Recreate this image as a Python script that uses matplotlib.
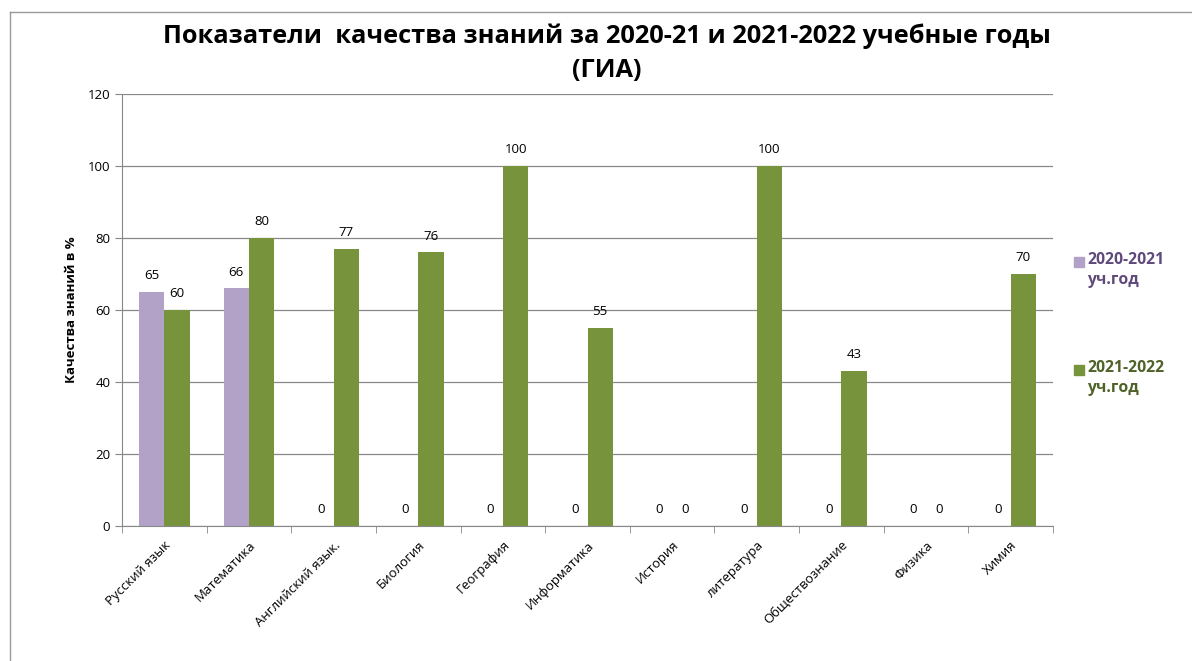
import numpy as np
import matplotlib.pyplot as plt
from matplotlib.patches import Rectangle
from matplotlib.lines import Line2D

plt.rcParams['font.family'] = ['Open Sans', 'DejaVu Sans']

subjects = ['Русский язык', 'Математика', 'Английский язык.', 'Биология', 'География',
            'Информатика', 'История', 'литература', 'Обществознание', 'Физика', 'Химия']
year_2021 = [65, 66, 0, 0, 0, 0, 0, 0, 0, 0, 0]
year_2022 = [60, 80, 77, 76, 100, 55, 0, 100, 43, 0, 70]
series_names = ['2020-2021\nуч.год', '2021-2022\nуч.год']

c_lav = '#B3A2C7'
c_green = '#77933C'

fig = plt.figure(figsize=(11.92, 6.61), dpi=100)
ax = fig.add_axes([122 / 1192, 1 - 526 / 661, 931 / 1192, 432 / 661])

x = np.arange(len(subjects))
w = 0.3
b1 = ax.bar(x - w / 2, year_2021, w, color=c_lav)
b2 = ax.bar(x + w / 2, year_2022, w, color=c_green)
for bars, vals in ((b1, year_2021), (b2, year_2022)):
    for r, v in zip(bars, vals):
        ax.annotate(str(v), (r.get_x() + r.get_width() / 2, v), xytext=(0, 7),
                    textcoords='offset points', ha='center', va='bottom', fontsize=9.5)

ax.set_xlim(-0.5, len(subjects) - 0.5)
ax.set_ylim(0, 120)
ax.set_yticks(range(0, 121, 20))
ax.yaxis.grid(True, color='#888888', lw=0.9)
ax.set_axisbelow(True)
for s in ('top', 'right'):
    ax.spines[s].set_visible(False)
for s in ('left', 'bottom'):
    ax.spines[s].set_color('#888888')
ax.set_xticks(x)
ax.set_xticklabels(subjects, rotation=45, ha='right', rotation_mode='anchor', fontsize=9.5)
ax.tick_params(axis='x', length=0, pad=9)
ax.set_xticks(np.arange(-0.5, len(subjects)), minor=True)
ax.tick_params(axis='x', which='minor', length=5, color='#888888')
ax.tick_params(axis='y', length=5, color='#888888', labelsize=9.5)
ax.set_ylabel('Качества знаний в %', fontsize=9.5, fontweight='bold', labelpad=7)

fig.text(0.5 * (163 + 1050) / 1192, 1 - 53 / 661,
         'Показатели  качества знаний за 2020-21 и 2021-2022 учебные годы\n(ГИА)',
         ha='center', va='center', fontsize=18.3, fontweight='bold', linespacing=1.45)

# legend
for name, col, tcol, ytop in ((series_names[0], c_lav, '#604A7B', 262),
                              (series_names[1], c_green, '#4F6228', 370)):
    fig.patches.append(Rectangle((1074 / 1192, 1 - (ytop + 5) / 661), 10 / 1192, 10 / 661,
                                 transform=fig.transFigure, color=col))
    fig.text(1087 / 1192, 1 - (ytop - 10) / 661, name, ha='left', va='top', fontsize=11.3,
             fontweight='bold', color=tcol, linespacing=1.35)

# chart border
fig.lines.append(Line2D([10 / 1192, 10 / 1192], [0, 1 - 12 / 661], transform=fig.transFigure,
                        color='#999999', lw=1))
fig.lines.append(Line2D([10 / 1192, 1], [1 - 12 / 661, 1 - 12 / 661], transform=fig.transFigure,
                        color='#999999', lw=1))

fig.savefig('out.png', dpi=100)
